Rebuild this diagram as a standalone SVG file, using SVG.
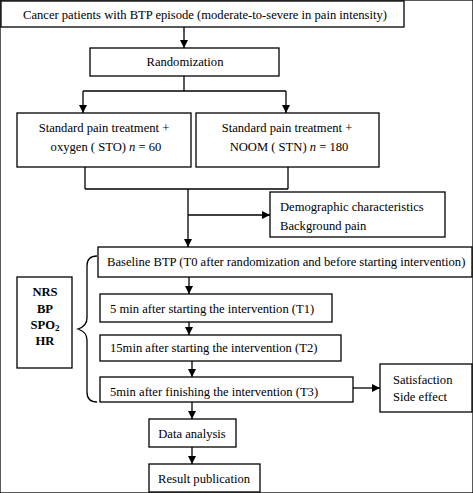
<svg xmlns="http://www.w3.org/2000/svg" width="473" height="493" viewBox="0 0 473 493">
<defs>
<marker id="ah" viewBox="0 0 10 10" refX="10" refY="5" markerWidth="8" markerHeight="8" markerUnits="userSpaceOnUse" orient="auto">
<path d="M0,0 L10,5 L0,10 z" fill="#000"/>
</marker>
</defs>
<style>
rect{fill:#fff;stroke:#000;stroke-width:1.3}
text{font-family:"Liberation Serif","Times New Roman",serif;font-size:12.6px;fill:#000}
.c{text-anchor:middle}
.b{font-weight:bold}
.ln{fill:none;stroke:#000;stroke-width:1.3}
.ar{fill:none;stroke:#000;stroke-width:1.3;marker-end:url(#ah)}
</style>
<rect width="473" height="493" fill="#fff" stroke="none"/>
<g id="connectors">
<path class="ar" d="M184,27 V48"/>
<path class="ln" d="M184,76 V91 M83,91 H286"/>
<path class="ar" d="M83,91 V113"/>
<path class="ar" d="M286,91 V113"/>
<path class="ln" d="M85,167 V189 M288,167 V189 M85,189 H288"/>
<path class="ar" d="M188,189 V247"/>
<path class="ar" d="M188,215 H270"/>
<path class="ar" d="M189,277 V294"/>
<path class="ar" d="M189,322 V335"/>
<path class="ar" d="M192,361 V377"/>
<path class="ar" d="M353,388 H380"/>
<path class="ar" d="M192,402 V419"/>
<path class="ar" d="M192,447 V464"/>
<path class="ln" d="M97,256 C90,256 87,260 87,266 V318 C87,323 84,327 78,329 C84,331 87,335 87,340 V392 C87,398 90,402 97,402"/>
</g>
<g id="n1"><rect x="1" y="1" width="403" height="26"/><text x="23" y="19">Cancer patients with BTP episode (moderate-to-severe in pain intensity)</text></g>
<g id="n2"><rect x="90" y="48" width="189" height="28"/><text class="c" x="185" y="66">Randomization</text></g>
<g id="n3"><rect x="17" y="113" width="174" height="54"/><text class="c" x="104" y="132">Standard pain treatment +</text><text class="c" x="106" y="151">oxygen ( STO) <tspan font-style="italic">n</tspan> = 60</text></g>
<g id="n4"><rect x="196" y="113" width="183" height="54"/><text class="c" x="287" y="132">Standard pain treatment +</text><text class="c" x="289" y="151">NOOM ( STN) <tspan font-style="italic">n</tspan> = 180</text></g>
<g id="n5"><rect x="270" y="192" width="175" height="45"/><text x="280" y="211">Demographic characteristics</text><text x="280" y="230">Background pain</text></g>
<g id="n6"><rect x="98" y="247" width="374" height="30"/><text x="107" y="266">Baseline BTP (T0 after randomization and before starting intervention)</text></g>
<g id="n7"><rect x="100" y="294" width="232" height="28"/><text x="110" y="313">5 min after starting the intervention (T1)</text></g>
<g id="n8"><rect x="100" y="335" width="241" height="26"/><text x="110" y="352">15min after starting the intervention (T2)</text></g>
<g id="n9"><rect x="100" y="377" width="253" height="25"/><text x="110" y="396">5min after finishing the intervention (T3)</text></g>
<g id="n10"><rect x="380" y="364" width="92" height="48"/><text x="393" y="384">Satisfaction</text><text x="393" y="401">Side effect</text></g>
<g id="n11"><rect x="149" y="419" width="87" height="28"/><text class="c" x="192" y="438">Data analysis</text></g>
<g id="n12"><rect x="149" y="464" width="111" height="28"/><text class="c" x="204" y="483">Result publication</text></g>
<g id="n13"><rect x="17" y="277" width="55" height="91"/><text class="c b" x="45" y="296">NRS</text><text class="c b" x="45" y="313">BP</text><text class="c b" x="45" y="329">SPO<tspan font-size="9" dy="2">2</tspan></text><text class="c b" x="45" y="345">HR</text></g>
</svg>
